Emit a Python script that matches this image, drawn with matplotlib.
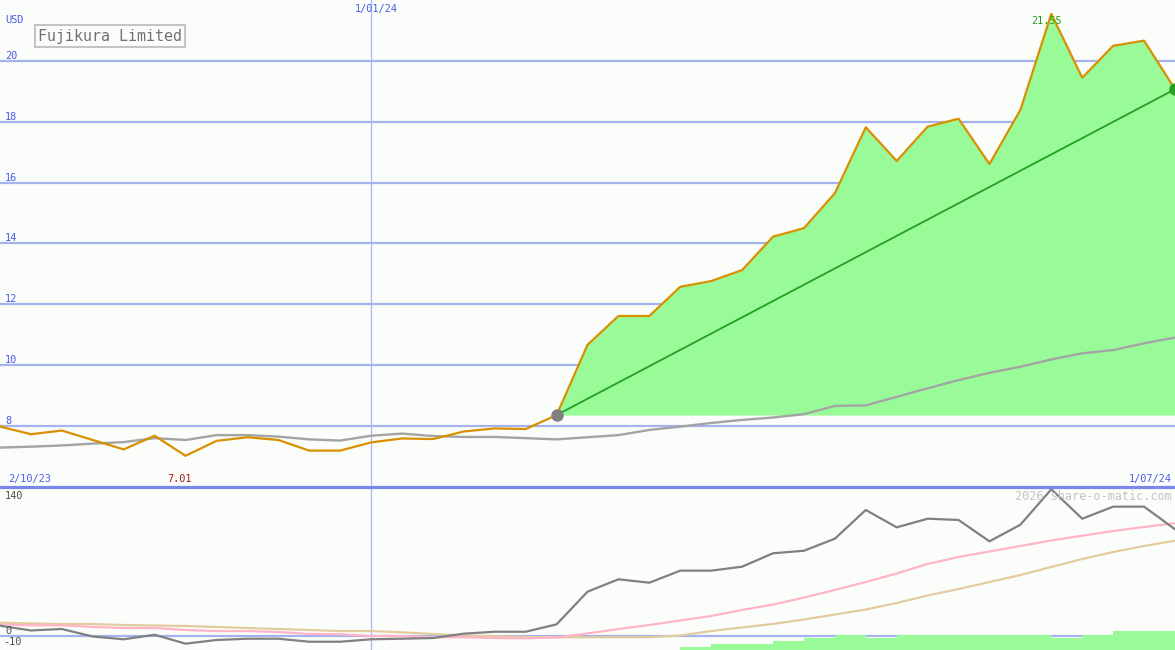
import numpy as np
import matplotlib
matplotlib.use("Agg")
import matplotlib.pyplot as plt
from matplotlib.lines import Line2D

# weekly points, index 0..38
start_label = "2/10/23"
mid_label = "1/01/24"
end_label = "1/07/24"
mid_idx = 12

price = [7.97, 7.72, 7.84, 7.53, 7.22, 7.67, 7.01, 7.50, 7.62, 7.53,
         7.18, 7.18, 7.45, 7.58, 7.56, 7.81, 7.91, 7.89, 8.35, 10.66,
         11.61, 11.61, 12.57, 12.76, 13.12, 14.22, 14.50, 15.65, 17.82, 16.71,
         17.84, 18.10, 16.61, 18.39, 21.55, 19.45, 20.50, 20.67, 19.07]

avg = [7.28, 7.31, 7.35, 7.41, 7.46, 7.59, 7.53, 7.69, 7.69, 7.64,
       7.55, 7.51, 7.67, 7.74, 7.66, 7.63, 7.63, 7.59, 7.55, 7.62,
       7.69, 7.86, 7.97, 8.09, 8.19, 8.27, 8.38, 8.65, 8.67, 8.95,
       9.23, 9.50, 9.74, 9.94, 10.18, 10.38, 10.49, 10.71, 10.90]

rel = [10.6, 5.7, 7.2, -0.5, -3.4, 1.3, -7.9, -4.1, -2.8, -2.8,
       -5.9, -5.9, -3.4, -2.8, -2.1, 2.4, 4.4, 4.4, 12.0, 45.6,
       58.4, 54.9, 67.3, 67.3, 71.4, 85.2, 87.8, 100.2, 129.8, 111.9,
       120.8, 119.5, 97.5, 114.6, 151.1, 120.8, 133.2, 133.2, 109.9]

pink = [12.0, 11.0, 11.0, 9.3, 8.2, 8.2, 6.2, 5.1, 5.1, 4.1,
        2.1, 1.8, 0.0, 0.0, -1.3, -1.3, -2.1, -2.4, -1.5, 2.6,
        7.2, 11.3, 16.0, 20.6, 26.8, 32.4, 39.6, 47.4, 55.6, 64.4,
        74.2, 81.4, 87.0, 92.7, 98.4, 103.3, 108.1, 112.3, 116.1]

tan = [13.7, 12.9, 12.4, 12.4, 11.3, 10.8, 10.3, 9.3, 8.2, 7.2,
       6.2, 5.1, 5.1, 3.8, 2.1, 0.5, -0.3, -1.0, -1.3, -1.3,
       -1.3, -1.3, 0.5, 5.1, 8.8, 12.4, 17.0, 22.1, 27.3, 34.0,
       41.7, 48.4, 55.6, 62.8, 71.1, 79.3, 86.5, 92.7, 98.1]

bar_idx = list(range(22, 38))
bar_top = [-11.0, -8.2, -8.2, -5.1, -1.75, 1.0, -1.75, 1.0, 1.0, 1.0,
           1.0, 1.0, -1.75, 1.0, 5.1, 5.1]

price_grid = [8, 10, 12, 14, 16, 18, 20]
low_label = "7.01"
high_label = "21.55"
trend_from = 18

W, H = 1175, 650
bg = "#fbfdfa"
gridc = "#a4b2ee"
bluetxt = "#4a5ce8"
mono = "DejaVu Sans Mono"

fig = plt.figure(figsize=(W / 100, H / 100), dpi=100, facecolor=bg)
split = 487

ax = fig.add_axes([0, 1 - split / H, 1, split / H])
ax2 = fig.add_axes([0, 0, 1, 1 - split / H])
for a in (ax, ax2):
    a.set_facecolor(bg)
    a.set_axis_off()
    a.set_xlim(0, len(price) - 1)
    a.axvline(mid_idx, color="#a8b6f8", lw=0.9, zorder=1)

x = np.arange(len(price))
ppu = (425.7 - 61) / 12.0
ax.set_ylim(8 - (split - 425.7) / ppu, 8 + 425.7 / ppu)

for g in price_grid:
    ax.axhline(g, color=gridc, lw=1.6, zorder=1)
    ax.text(5 / W, g, str(g), transform=ax.get_yaxis_transform(), color=bluetxt,
            fontsize=7.4, family=mono, va="bottom", ha="left")

base = price[trend_from]
xs = x[trend_from:]
ps = np.array(price[trend_from:])
ax.fill_between(xs, ps, base, where=ps >= base, color="#98fb98", lw=0, zorder=2)
ax.plot(x, avg, color="#a4a4a4", lw=1.7, zorder=3)
ax.plot([trend_from, x[-1]], [base, price[-1]], color="#22a022", lw=1.3, zorder=4)
ax.plot(x, price, color="#d99000", lw=1.6, zorder=5)
ax.plot(trend_from, base, "o", ms=8, color="#808080", zorder=6)
ax.plot(x[-1], price[-1], "o", ms=8, color="#22a022", zorder=6, clip_on=False)

# bottom panel
bppu = 0.971
zero_px = 636.0
bot = -(650 - zero_px) / bppu
ax2.set_ylim(bot, (zero_px - split) / bppu)
ax2.axhline(0, color=gridc, lw=1.6, zorder=1)
ax2.bar(bar_idx, [t - bot for t in bar_top], bottom=bot, width=1.0, align="edge",
        color="#98fb98", lw=0, zorder=2)
ax2.plot(x, tan, color="#e2cc9e", lw=1.6, zorder=3)
ax2.plot(x, pink, color="#ffb4c8", lw=1.6, zorder=4)
ax2.plot(x, rel, color="#808080", lw=1.6, zorder=5)

# panel separator
fig.add_artist(Line2D([0, 1], [1 - split / H] * 2, transform=fig.transFigure,
                      color="#7888e8", lw=2.3, zorder=10))


def ftext(px, py, s, **kw):
    fig.text(px / W, 1 - py / H, s, **kw)


ftext(5, 20, "USD", color=bluetxt, fontsize=7.4, family=mono, va="center")
ftext(110, 36, "Fujikura Limited", color="#707070", fontsize=10.8, family=mono,
      va="center", ha="center",
      bbox=dict(boxstyle="square,pad=0.22", fc=bg, ec="#c4c4c4", lw=1.5))
ftext(376, 9, mid_label, color=bluetxt, fontsize=7.4, family=mono, va="center", ha="center")
ftext(8, 479, start_label, color=bluetxt, fontsize=7.4, family=mono, va="center", ha="left")
ftext(1172, 479, end_label, color=bluetxt, fontsize=7.4, family=mono, va="center", ha="right")
ftext(180, 479, low_label, color="#a01818", fontsize=7.4, family=mono, va="center", ha="center")
ftext(1046, 21, high_label, color="#22a022", fontsize=7.4, family=mono, va="center", ha="center")
ftext(1172, 496, "2026 share-o-matic.com", color="#c4c4c4", fontsize=8.6, family=mono,
      va="center", ha="right")
ftext(5, 496, "140", color="#505050", fontsize=7.4, family=mono, va="center")
ftext(5, 631, "0", color="#505050", fontsize=7.4, family=mono, va="center")
ftext(3, 642, "-10", color="#505050", fontsize=7.4, family=mono, va="center")

fig.savefig("out.png", dpi=100, facecolor=bg)
